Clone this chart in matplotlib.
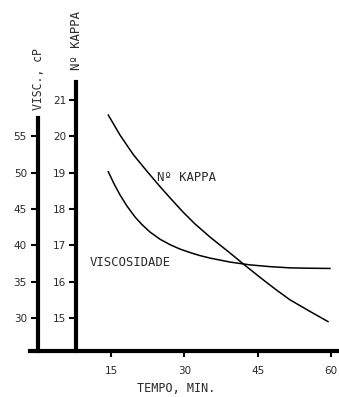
import numpy as np
import matplotlib
matplotlib.use("Agg")
import matplotlib.pyplot as plt

# dados
tempo_kappa = [14.45, 16.84, 19.56, 22.30, 25.01, 27.06, 29.71, 32.17,
               35.23, 39.32, 42.39, 45.45, 48.52, 51.58, 55.67, 59.35]
kappa = [20.59, 20.04, 19.50, 19.05, 18.62, 18.31, 17.92, 17.59,
         17.23, 16.79, 16.45, 16.12, 15.80, 15.50, 15.18, 14.90]

tempo_visc = [14.45, 15.61, 16.84, 18.27, 19.90, 21.34, 22.97, 25.01, 27.06,
              29.10, 31.15, 33.19, 35.23, 39.32, 43.41, 47.50, 51.58, 55.67, 59.75]
visc = [50.15, 48.49, 46.96, 45.41, 43.92, 42.86, 41.84, 40.85, 40.10,
        39.49, 39.01, 38.59, 38.25, 37.70, 37.31, 37.07, 36.90, 36.85, 36.82]

x_ticks = [15, 30, 45, 60]
kappa_ticks = [15, 16, 17, 18, 19, 20, 21]
visc_ticks = [30, 35, 40, 45, 50, 55]

W, H = 339, 397
fig = plt.figure(figsize=(W / 100, H / 100), dpi=100)

# eixo principal (Nº kappa)
ax = fig.add_axes([30 / W, 46 / H, 309 / W, (351 - 82) / H])
ax.set_xlim(-1.55, 61.6)
ax.set_ylim(14.09, 21.5)
ax2 = ax.twinx()
ax2.set_ylim(5 * 14.09 - 45, 5 * 21.5 - 45)

cor_txt = '#2a2a2a'
fonte = 'DejaVu Sans Mono'
for a in (ax, ax2):
    for s in a.spines.values():
        s.set_visible(False)

ax.spines['bottom'].set_visible(True)
ax.spines['bottom'].set_linewidth(3)
ax.spines['left'].set_visible(True)
ax.spines['left'].set_linewidth(3)
ax.spines['left'].set_position(('data', 7.85))

ax2.spines['left'].set_visible(True)
ax2.spines['left'].set_linewidth(3)
ax2.spines['left'].set_position(('data', 0.08))
ax2.spines['left'].set_bounds(5 * 14.09 - 45, 57.55)
ax2.yaxis.set_ticks_position('left')
ax2.yaxis.set_label_position('left')

ax.set_xticks(x_ticks)
ax.set_yticks(kappa_ticks)
ax2.set_yticks(visc_ticks)
ax.tick_params(axis='x', length=4, width=1.5, pad=7, labelsize=7.5, labelcolor=cor_txt)
ax.tick_params(axis='y', length=5, width=1.5, pad=2, labelsize=7.5, labelcolor=cor_txt)
ax2.tick_params(axis='y', left=True, right=False, labelleft=True, labelright=False,
                length=5, width=1.5, pad=3, labelsize=7.5, labelcolor=cor_txt)

ax.plot(tempo_kappa, kappa, color='black', lw=1.1)
ax2.plot(tempo_visc, visc, color='black', lw=1.1)

ax.text(24.4, 18.88, 'Nº KAPPA', fontsize=8.8, family=fonte, color=cor_txt, va='center')
ax.text(10.7, 16.54, 'VISCOSIDADE', fontsize=8.8, family=fonte, color=cor_txt, va='center')

fig.text(38 / W, 1 - 79 / H, 'VISC., cP', rotation=90, fontsize=8.3, family=fonte,
         color=cor_txt, ha='center', va='center')
fig.text(76 / W, 1 - 41 / H, 'Nº KAPPA', rotation=90, fontsize=8.8, family=fonte,
         color=cor_txt, ha='center', va='center')
fig.text(176 / W, 1 - 389 / H, 'TEMPO, MIN.', fontsize=8.5, family=fonte,
         color=cor_txt, ha='center', va='center')

fig.savefig('out.png', dpi=100)
